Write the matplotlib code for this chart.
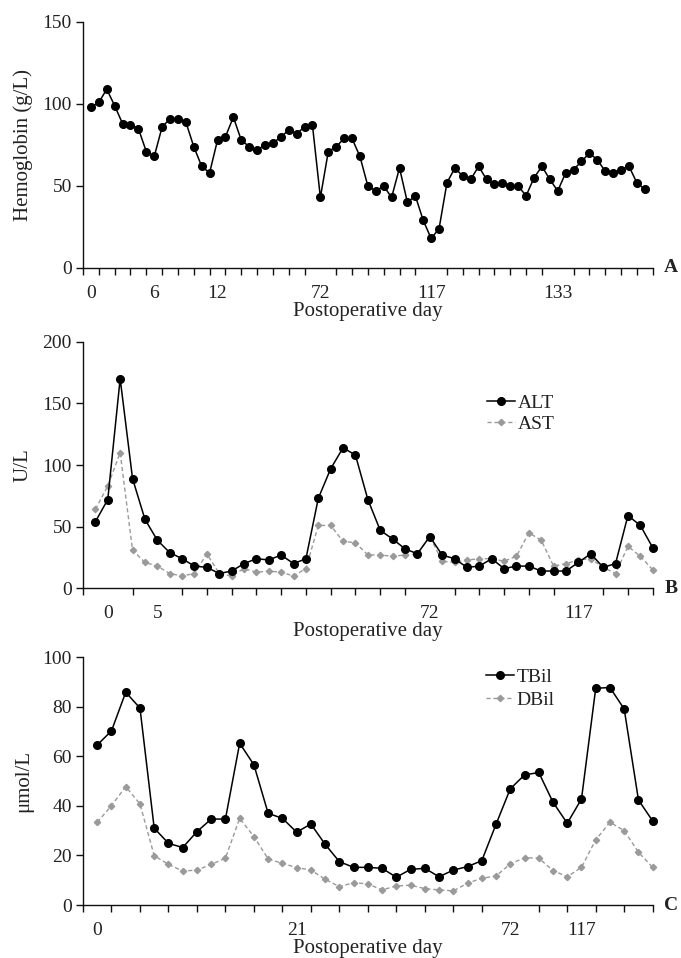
import numpy as np
import matplotlib
matplotlib.use("Agg")
import matplotlib.pyplot as plt

plt.rcParams['font.family'] = ['Liberation Serif', 'DejaVu Serif']
plt.rcParams['font.size'] = 14

# panel A - hemoglobin
hb = [98, 101, 109, 99, 88, 87, 85, 71, 68, 86, 91, 91, 89, 74, 62, 58, 78, 80, 92, 78,
      74, 72, 75, 76, 80, 84, 82, 86, 87, 43, 71, 74, 79, 79, 68, 50, 47, 50, 43, 61,
      40, 44, 29, 18, 24, 52, 61, 56, 54, 62, 54, 51, 52, 50, 50, 44, 55, 62, 54, 47,
      58, 60, 65, 70, 66, 59, 58, 60, 62, 52, 48]
hb_label_pos = [0, 8, 16, 29, 43, 59]
hb_labels = ['0', '6', '12', '72', '117', '133']

# panel B - ALT / AST
alt = [54, 72, 170, 89, 56, 39, 29, 24, 18, 17, 12, 14, 20, 24, 23, 27, 20, 24, 73, 97,
       114, 108, 72, 47, 40, 32, 28, 42, 27, 24, 17, 18, 24, 16, 18, 18, 14, 14, 14, 21,
       28, 17, 20, 59, 51, 33]
ast = [64, 83, 110, 31, 21, 18, 12, 10, 12, 28, 12, 10, 16, 13, 14, 13, 10, 16, 51, 51,
       38, 37, 27, 27, 26, 27, 28, 42, 22, 21, 23, 24, 24, 22, 26, 45, 39, 18, 20, 23,
       24, 17, 12, 34, 26, 15]
liver_label_pos = [1, 5, 27, 39]
liver_labels = ['0', '5', '72', '117']

# panel C - bilirubin
tbil = [64.6, 70.3, 85.9, 79.5, 31, 24.9, 23.2, 29.6, 34.7, 34.7, 65.3, 56.6, 37, 35,
        29.4, 32.7, 24.5, 17.5, 15.2, 15.2, 14.8, 11.2, 14.4, 14.8, 11.4, 14.1, 15.5,
        17.9, 32.6, 46.9, 52.5, 53.5, 41.5, 33, 42.8, 87.5, 87.8, 79.1, 42.4, 33.9]
dbil = [33.4, 40.1, 47.8, 40.8, 19.9, 16.4, 13.7, 14.1, 16.4, 18.9, 35, 27.6, 18.6,
        16.8, 15.1, 14.1, 10.4, 7.4, 9, 8.5, 6.1, 7.7, 8, 6.6, 6.1, 5.7, 8.8, 10.8,
        11.7, 16.6, 19.1, 18.9, 13.9, 11.4, 15.2, 26.3, 33.4, 30, 21.3, 15.2]
bil_label_pos = [0, 14, 29, 34]
bil_labels = ['0', '21', '72', '117']

txt = '#222222'
fig = plt.figure(figsize=(6.81, 9.58), dpi=100)
left, width = 83 / 681, 569.7 / 681
axA = fig.add_axes([left, 690 / 958, width, 246 / 958])
axB = fig.add_axes([left, 369.7 / 958, width, 246.6 / 958])
axC = fig.add_axes([left, 53 / 958, width, 247.7 / 958])


def style(ax, xmax, ymax, ystep, label_pos, labels, ylabel, letter):
    ax.spines['top'].set_visible(False)
    ax.spines['right'].set_visible(False)
    for s in ['left', 'bottom']:
        ax.spines[s].set_linewidth(1.0)
        ax.spines[s].set_color('#111111')
    ax.set_xlim(-1, xmax)
    ax.set_ylim(0, ymax)
    ax.set_yticks(np.arange(0, ymax + 1, ystep))
    ax.set_xticks(label_pos)
    ax.set_xticklabels(labels)
    ax.set_xticks(np.arange(-1, xmax + 0.5, 2), minor=True)
    ax.tick_params(axis='x', which='major', length=0, pad=12, colors=txt)
    ax.tick_params(axis='x', which='minor', length=5, width=1.0, direction='out', color='#111111')
    ax.tick_params(axis='y', length=5, width=1.0, direction='out', pad=3, colors=txt)
    ax.tick_params(axis='y', color='#111111')
    ax.set_xlabel('Postoperative day', color=txt, labelpad=0, fontsize=15)
    ax.set_ylabel(ylabel, color=txt, labelpad=7, fontsize=15)
    ax.text(1.032, 0, letter, transform=ax.transAxes, ha='center', va='center',
            fontweight='bold', fontsize=14, color=txt)


# A
xa = np.arange(len(hb))
axA.plot(xa, hb, color='black', lw=1.1, marker='o', ms=5.5, clip_on=False)
style(axA, 71, 150, 50, hb_label_pos, hb_labels, 'Hemoglobin (g/L)', 'A')

# B
xb = np.arange(len(alt))
axB.plot(xb, ast, color='#9a9a9a', lw=1.0, ls=(0, (3, 2)), marker='D', ms=3.2,
         label='AST', zorder=2, clip_on=False)
axB.plot(xb, alt, color='black', lw=1.1, marker='o', ms=5.5, label='ALT', zorder=3,
         clip_on=False)
style(axB, 45, 200, 50, liver_label_pos, liver_labels, 'U/L', 'B')
h, l = axB.get_legend_handles_labels()
axB.legend(h[::-1], l[::-1], loc='upper left', bbox_to_anchor=(0.709, 0.786),
           frameon=False, borderpad=0, handlelength=1.45, handletextpad=0.15,
           labelspacing=0.15, borderaxespad=0, labelcolor=txt)

# C
xc = np.arange(len(tbil))
axC.plot(xc, dbil, color='#9a9a9a', lw=1.0, ls=(0, (3, 2)), marker='D', ms=3.2,
         label='DBil', zorder=2, clip_on=False)
axC.plot(xc, tbil, color='black', lw=1.1, marker='o', ms=5.5, label='TBil', zorder=3,
         clip_on=False)
style(axC, 39, 100, 20, bil_label_pos, bil_labels, 'μmol/L', 'C')
h, l = axC.get_legend_handles_labels()
axC.legend(h[::-1], l[::-1], loc='upper left', bbox_to_anchor=(0.707, 0.956),
           frameon=False, borderpad=0, handlelength=1.45, handletextpad=0.15,
           labelspacing=0.3, borderaxespad=0, labelcolor=txt)

fig.savefig('out.png', dpi=100)
